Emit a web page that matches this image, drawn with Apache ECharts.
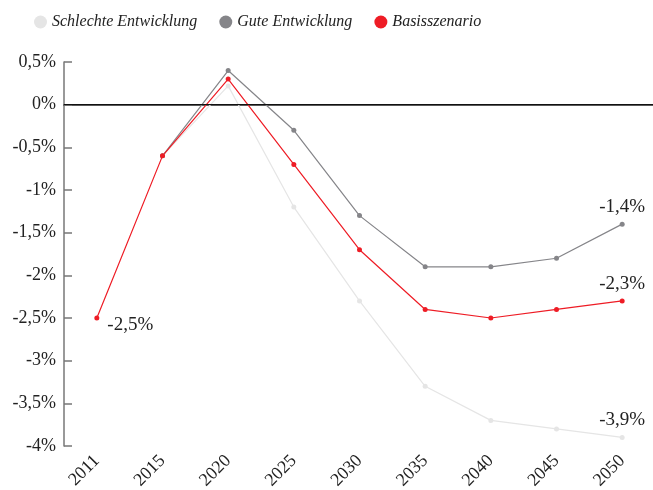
<!DOCTYPE html>
<html>
<head>
<meta charset="utf-8">
<script src="https://cdn.jsdelivr.net/npm/echarts@6/dist/echarts.min.js"></script>
<style>
  html, body { margin: 0; padding: 0; background: #fff; }
  #chart { width: 653px; height: 490px; }
</style>
</head>
<body>
<div id="chart"></div>
<script>
const years = ['2011', '2015', '2020', '2025', '2030', '2035', '2040', '2045', '2050'];
const schlecht = [null, -0.6, 0.22, -1.2, -2.3, -3.3, -3.7, -3.8, -3.9];
const gut = [null, -0.6, 0.4, -0.3, -1.3, -1.9, -1.9, -1.8, -1.4];
const basis = [-2.5, -0.6, 0.3, -0.7, -1.7, -2.4, -2.5, -2.4, -2.3];

const font = '"Liberation Serif", serif';
const fmt = v => String(v).replace('.', ',') + '%';

// only some points carry a label
function withLabels(values, idx, pos, offs) {
  return values.map((v, i) => {
    const k = idx.indexOf(i);
    if (k < 0) return v;
    return { value: v, label: { show: true, position: pos[k], offset: offs[k], formatter: p => fmt(p.value) } };
  });
}

function line(name, color, data) {
  return {
    name, type: 'line', data,
    symbol: 'circle', symbolSize: 5,
    lineStyle: { color, width: 1.2 },
    itemStyle: { color },
    label: { color: '#222', fontFamily: font, fontSize: 19, distance: 5 },
    emphasis: { disabled: true },
    animation: false
  };
}

const chart = echarts.init(document.getElementById('chart'));
chart.setOption({
  textStyle: { fontFamily: font },
  legend: {
    top: 9, left: 29, itemGap: 22,
    icon: 'circle', itemWidth: 13, itemHeight: 13,
    textStyle: { fontFamily: font, fontStyle: 'italic', fontSize: 16, color: '#222' },
    data: ['Schlechte Entwicklung', 'Gute Entwicklung', 'Basisszenario']
  },
  grid: { left: 64, right: -2, top: 62, bottom: 44, outerBoundsMode: 'none' },
  xAxis: {
    type: 'category', data: years, boundaryGap: true,
    axisLine: { lineStyle: { color: '#222', width: 1.5 } },
    axisTick: { show: false },
    axisLabel: { rotate: 45, color: '#222', fontFamily: font, fontSize: 18, margin: 12 }
  },
  yAxis: {
    type: 'value', min: -4, max: 0.5, interval: 0.5,
    axisLine: { show: true, onZero: false, lineStyle: { color: '#777', width: 1.5 } },
    axisTick: { show: true, inside: true, length: 8, lineStyle: { color: '#777', width: 1.5 } },
    splitLine: { show: false },
    axisLabel: { color: '#222', fontFamily: font, fontSize: 18, margin: 8, formatter: v => fmt(v) }
  },
  series: [
    line('Schlechte Entwicklung', '#e5e5e5', withLabels(schlecht, [8], ['top'], [[0, 0]])),
    line('Gute Entwicklung', '#858589', withLabels(gut, [8], ['top'], [[0, 0]])),
    Object.assign(line('Basisszenario', '#ee1c25', withLabels(basis, [0, 8], ['right', 'top'], [[3, 7], [0, 0]])), {
      markLine: {
        silent: true, symbol: 'none', label: { show: false },
        lineStyle: { color: '#111', type: 'solid', width: 1.2 },
        data: [{ yAxis: 0 }]
      }
    })
  ]
});
</script>
</body>
</html>
